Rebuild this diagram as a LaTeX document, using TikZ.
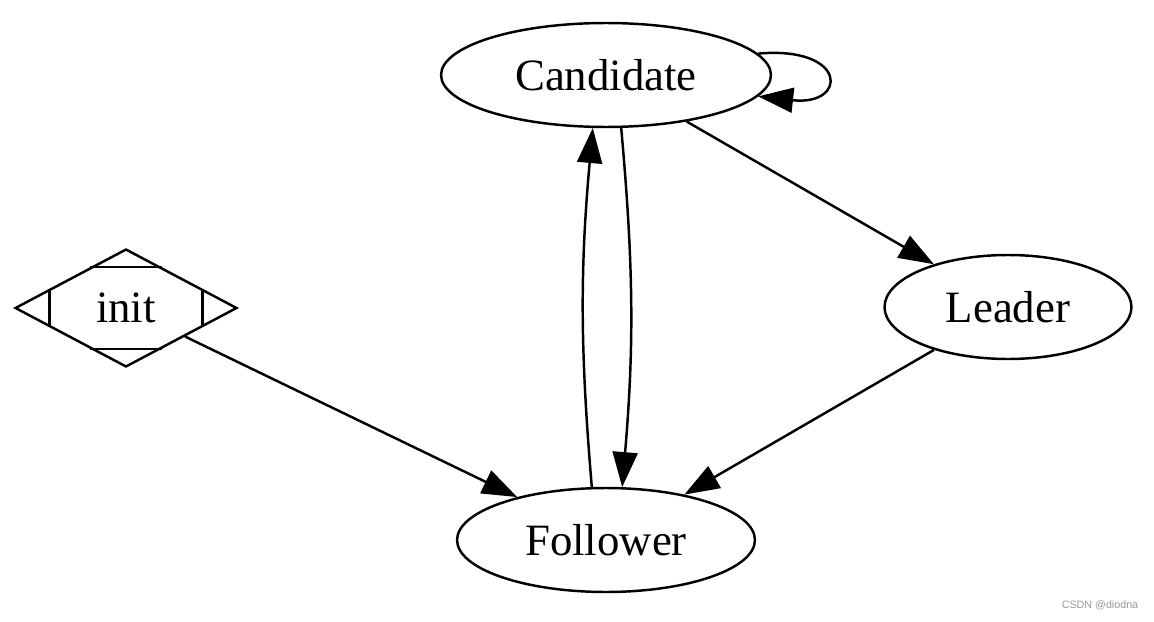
\documentclass[tikz,border=0pt]{standalone}
\usepackage{fontspec}
\setmainfont{Liberation Serif}
\newfontfamily\markfont{Liberation Sans}
\usetikzlibrary{shapes.geometric,arrows.meta,calc}

\begin{document}
\begin{tikzpicture}[
        x=0.02cm, y=-0.02cm,
        every node/.style={font=\fontsize{25.5}{30}\selectfont},
        state/.style={ellipse, draw, line width=1.4pt, inner sep=0pt, minimum height=2.08cm},
        start/.style={diamond, draw, line width=1.4pt, inner sep=0pt, aspect=1.9, minimum width=4.44cm, minimum height=2.36cm},
        edge/.style={draw, line width=1.4pt, -{Triangle[length=0.7cm, width=0.5cm]}}
    ]

        \useasboundingbox (0,0) rectangle (1154,622);

        \node[state, minimum width=6.6cm]  (candidate) at (606,75)   {Candidate};
        \node[state, minimum width=4.94cm] (leader)    at (1008,307) {Leader};
        \node[state, minimum width=5.96cm] (follower)  at (606,540)  {Follower};
        \node[start]                       (init)      at (126,308)  {init};

        % Mdiamond corners
        \draw[line width=1.4pt] ($(init.north)!0.32!(init.west)$) -- ($(init.north)!0.32!(init.east)$);
        \draw[line width=1.4pt] ($(init.south)!0.32!(init.west)$) -- ($(init.south)!0.32!(init.east)$);
        \draw[line width=1.4pt] ($(init.west)!0.32!(init.north)$) -- ($(init.west)!0.32!(init.south)$);
        \draw[line width=1.4pt] ($(init.east)!0.32!(init.north)$) -- ($(init.east)!0.32!(init.south)$);

        \draw[edge] (init) -- (follower);
        \draw[edge] (candidate) -- (leader);
        \draw[edge] (leader) -- (follower);
        \draw[edge] (follower.105) to[bend left=5] (candidate.256);
        \draw[edge] (candidate.286) to[bend left=5] (follower.73);
        \draw[edge] (candidate.8) .. controls +(90,-8) and +(90,10) .. (candidate.-8);

        \node[font=\markfont\fontsize{6.1}{7}\selectfont, text=black!40] (mark) at (1100,605) {CSDN @diodna};

    \end{tikzpicture}
\end{document}
